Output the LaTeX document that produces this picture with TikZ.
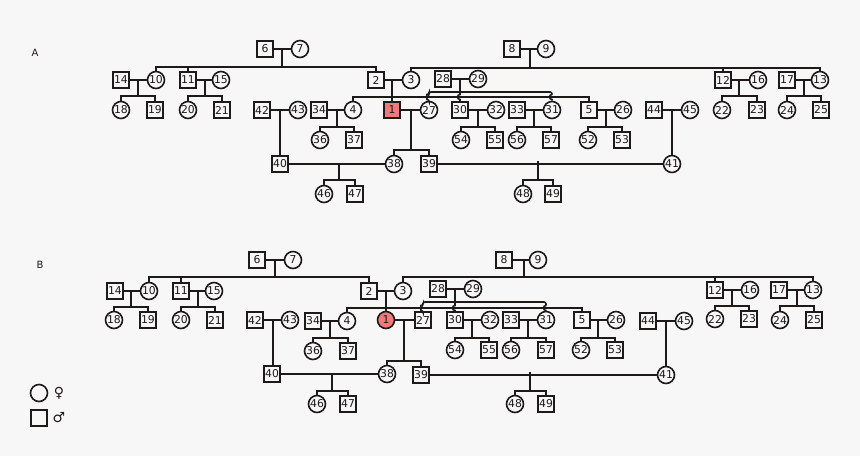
\documentclass[tikz,border=0pt]{standalone}
\usepackage{fontspec}
\usetikzlibrary{calc}
\newfontfamily\dv{DejaVu Sans}
\definecolor{bgc}{RGB}{247,247,247}
\definecolor{lnc}{RGB}{30,26,26}
\definecolor{affc}{RGB}{240,122,122}
\newcommand{\pedsib}[3]{\draw (#1.north) -- (#1.north |- 0,#3) -- (#2.north |- 0,#3) -- (#2.north);}
\newcommand{\peddrop}[2]{\draw (#1.north) -- (#1.north |- 0,#2);}
% #1 = a partner node (gives the couple line y), #2 = x of descent, #3 = y of sibship line
\newcommand{\peddesc}[3]{\coordinate (tmpc) at (#1 -| #2,0); \draw (tmpc) -- (tmpc |- 0,#3);}
\newcommand{\peddescto}[3]{\coordinate (tmpc) at (#1 -| #2,0); \draw (tmpc) -- (tmpc |- #3.north);}
\begin{document}
\begin{tikzpicture}[x=1pt,y=-1pt, color=lnc, line width=1.6pt,
  ml/.style={draw=lnc, rectangle, minimum size=16pt, inner sep=0pt, line width=1.6pt, fill=bgc, font=\dv\fontsize{10.8}{10.8}\selectfont},
  fl/.style={draw=lnc, circle, minimum size=17pt, inner sep=0pt, line width=1.6pt, fill=bgc, font=\dv\fontsize{10.8}{10.8}\selectfont},
  aff/.style={fill=affc},
  lbl/.style={font=\dv\fontsize{10}{10}\selectfont, text=lnc},
  sym/.style={font=\dv\fontsize{14}{14}\selectfont, text=lnc}]
\fill[bgc] (0,0) rectangle (860,456);
\useasboundingbox (0,0) rectangle (860,456);

% ================= Panel A =================
\node[lbl] (labA) at (35,53) {A};
\node[ml] (a6) at (265,49) {6};
\node[fl] (a7) at (300,49) {7};
\node[ml] (a8) at (512,49) {8};
\node[fl] (a9) at (546,49) {9};
\node[ml] (a14) at (121,80) {14};
\node[fl] (a10) at (156,80) {10};
\node[ml] (a11) at (188,80) {11};
\node[fl] (a15) at (221,80) {15};
\node[ml] (a2) at (376,80) {2};
\node[fl] (a3) at (411,80) {3};
\node[ml] (a28) at (443,79) {28};
\node[fl] (a29) at (478,79) {29};
\node[ml] (a12) at (723,80) {12};
\node[fl] (a16) at (758,80) {16};
\node[ml] (a17) at (787,80) {17};
\node[fl] (a13) at (820,80) {13};
\node[fl] (a18) at (121,110) {18};
\node[ml] (a19) at (155,110) {19};
\node[fl] (a20) at (188,110) {20};
\node[ml] (a21) at (222,110) {21};
\node[ml] (a42) at (262,110) {42};
\node[fl] (a43) at (298,110) {43};
\node[ml] (a34) at (319,110) {34};
\node[fl] (a4) at (353,110) {4};
\node[ml,aff] (a1) at (392,110) {1};
\node[fl] (a27) at (429,110) {27};
\node[ml] (a30) at (460,110) {30};
\node[fl] (a32) at (496,110) {32};
\node[ml] (a33) at (517,110) {33};
\node[fl] (a31) at (552,110) {31};
\node[ml] (a5) at (589,110) {5};
\node[fl] (a26) at (623,110) {26};
\node[ml] (a44) at (654,110) {44};
\node[fl] (a45) at (690,110) {45};
\node[fl] (a22) at (722,110) {22};
\node[ml] (a23) at (757,110) {23};
\node[fl] (a24) at (787,110) {24};
\node[ml] (a25) at (821,110) {25};
\node[fl] (a36) at (320,140) {36};
\node[ml] (a37) at (354,140) {37};
\node[fl] (a54) at (461,140) {54};
\node[ml] (a55) at (495,140) {55};
\node[fl] (a56) at (517,140) {56};
\node[ml] (a57) at (551,140) {57};
\node[fl] (a52) at (588,140) {52};
\node[ml] (a53) at (622,140) {53};
\node[ml] (a40) at (280,164) {40};
\node[fl] (a38) at (394,164) {38};
\node[ml] (a39) at (429,164) {39};
\node[fl] (a41) at (672,164) {41};
\node[fl] (a46) at (324,194) {46};
\node[ml] (a47) at (355,194) {47};
\node[fl] (a48) at (523,194) {48};
\node[ml] (a49) at (553,194) {49};

% couples
\draw (a6) -- (a7); \draw (a8) -- (a9);
\draw (a14) -- (a10); \draw (a11) -- (a15); \draw (a2) -- (a3); \draw (a28) -- (a29);
\draw (a12) -- (a16); \draw (a17) -- (a13);
\draw (a42) -- (a43); \draw (a34) -- (a4); \draw (a1) -- (a27); \draw (a30) -- (a32);
\draw (a33) -- (a31); \draw (a5) -- (a26); \draw (a44) -- (a45);
\draw (a40) -- (a38); \draw (a39) -- (a41);

% descents and sibships
\peddesc{a6}{282}{67} \pedsib{a10}{a2}{67} \peddrop{a11}{67}
\peddesc{a8}{530}{68} \pedsib{a3}{a13}{68} \peddrop{a12}{68}
\peddesc{a14}{138}{96} \pedsib{a18}{a19}{96}
\peddesc{a11}{205}{96} \pedsib{a20}{a21}{96}
\peddesc{a12}{739}{96} \pedsib{a22}{a23}{96}
\peddesc{a17}{804}{96} \pedsib{a24}{a25}{96}
\peddescto{a2}{392}{a1}
\pedsib{a4}{a5}{97}
\coordinate (a2829) at (a28 -| 460,0);
\draw (a2829) -- (a2829 |- 0,94.5) arc[start angle=270, end angle=90, radius=2.5] -- (a2829 |- a30.north);
\draw[rounded corners=2pt] (a27.north) -- (a27.north |- 0,99.5) arc[start angle=90, end angle=270, radius=2.5] -- (a27.north |- 0,92) -- (a31.north |- 0,92) -- (a31.north |- 0,94.5);
\draw (a31.north |- 0,94.5) arc[start angle=270, end angle=90, radius=2.5] -- (a31.north);
\peddescto{a42}{280}{a40}
\peddescto{a44}{672}{a41}
\peddesc{a34}{337}{127} \pedsib{a36}{a37}{127}
\peddesc{a30}{478}{127} \pedsib{a54}{a55}{127}
\peddesc{a33}{534}{127} \pedsib{a56}{a57}{127}
\peddesc{a5}{606}{127} \pedsib{a52}{a53}{127}
\peddesc{a1}{411}{150} \pedsib{a38}{a39}{150}
\coordinate (a4647) at (339,164); \draw (a4647) -- (a4647 |- 0,180); \pedsib{a46}{a47}{180}
\coordinate (a4849) at (538,161); \draw (a4849) -- (a4849 |- 0,180); \pedsib{a48}{a49}{180}

% ================= Panel B =================
\node[lbl] (labB) at (40,265) {B};
\node[ml] (b6) at (257,260) {6};
\node[fl] (b7) at (293,260) {7};
\node[ml] (b8) at (504,260) {8};
\node[fl] (b9) at (538,260) {9};
\node[ml] (b14) at (115,291) {14};
\node[fl] (b10) at (149,291) {10};
\node[ml] (b11) at (181,291) {11};
\node[fl] (b15) at (214,291) {15};
\node[ml] (b2) at (369,291) {2};
\node[fl] (b3) at (403,291) {3};
\node[ml] (b28) at (438,289) {28};
\node[fl] (b29) at (473,289) {29};
\node[ml] (b12) at (715,290) {12};
\node[fl] (b16) at (750,290) {16};
\node[ml] (b17) at (779,290) {17};
\node[fl] (b13) at (813,290) {13};
\node[fl] (b18) at (114,320) {18};
\node[ml] (b19) at (148,320) {19};
\node[fl] (b20) at (181,320) {20};
\node[ml] (b21) at (215,320) {21};
\node[ml] (b42) at (255,320) {42};
\node[fl] (b43) at (290,320) {43};
\node[ml] (b34) at (313,321) {34};
\node[fl] (b4) at (347,321) {4};
\node[fl,aff] (b1) at (386,320) {1};
\node[ml] (b27) at (423,320) {27};
\node[ml] (b30) at (455,320) {30};
\node[fl] (b32) at (490,320) {32};
\node[ml] (b33) at (511,320) {33};
\node[fl] (b31) at (546,320) {31};
\node[ml] (b5) at (582,320) {5};
\node[fl] (b26) at (616,320) {26};
\node[ml] (b44) at (648,321) {44};
\node[fl] (b45) at (684,321) {45};
\node[fl] (b22) at (715,319) {22};
\node[ml] (b23) at (749,319) {23};
\node[fl] (b24) at (780,320) {24};
\node[ml] (b25) at (814,320) {25};
\node[fl] (b36) at (313,351) {36};
\node[ml] (b37) at (348,351) {37};
\node[fl] (b54) at (455,350) {54};
\node[ml] (b55) at (489,350) {55};
\node[fl] (b56) at (511,350) {56};
\node[ml] (b57) at (546,350) {57};
\node[fl] (b52) at (581,350) {52};
\node[ml] (b53) at (615,350) {53};
\node[ml] (b40) at (272,374) {40};
\node[fl] (b38) at (387,374) {38};
\node[ml] (b39) at (421,375) {39};
\node[fl] (b41) at (666,375) {41};
\node[fl] (b46) at (317,404) {46};
\node[ml] (b47) at (348,404) {47};
\node[fl] (b48) at (515,404) {48};
\node[ml] (b49) at (546,404) {49};

\draw (b6) -- (b7); \draw (b8) -- (b9);
\draw (b14) -- (b10); \draw (b11) -- (b15); \draw (b2) -- (b3); \draw (b28) -- (b29);
\draw (b12) -- (b16); \draw (b17) -- (b13);
\draw (b42) -- (b43); \draw (b34) -- (b4); \draw (b1) -- (b27); \draw (b30) -- (b32);
\draw (b33) -- (b31); \draw (b5) -- (b26); \draw (b44) -- (b45);
\draw (b40) -- (b38); \draw (b39) -- (b41);

\peddesc{b6}{275}{277} \pedsib{b10}{b2}{277} \peddrop{b11}{277}
\peddesc{b8}{524}{277} \pedsib{b3}{b13}{277} \peddrop{b12}{277}
\peddesc{b14}{131}{307} \pedsib{b18}{b19}{307}
\peddesc{b11}{198}{307} \pedsib{b20}{b21}{307}
\peddesc{b12}{732}{306} \pedsib{b22}{b23}{306}
\peddesc{b17}{797}{306} \pedsib{b24}{b25}{306}
\peddescto{b2}{386}{b1}
\pedsib{b4}{b5}{308}
\coordinate (b2829) at (b28 -| 455,0);
\draw (b2829) -- (b2829 |- 0,305.5) arc[start angle=270, end angle=90, radius=2.5] -- (b2829 |- b30.north);
\draw[rounded corners=2pt] (b27.north) -- (b27.north |- 0,310.5) arc[start angle=90, end angle=270, radius=2.5] -- (b27.north |- 0,302) -- (b31.north |- 0,302) -- (b31.north |- 0,305.5);
\draw (b31.north |- 0,305.5) arc[start angle=270, end angle=90, radius=2.5] -- (b31.north);
\peddescto{b42}{273}{b40}
\peddescto{b44}{666}{b41}
\peddesc{b34}{330}{338} \pedsib{b36}{b37}{338}
\peddesc{b30}{472}{338} \pedsib{b54}{b55}{338}
\peddesc{b33}{528}{338} \pedsib{b56}{b57}{338}
\peddesc{b5}{598}{338} \pedsib{b52}{b53}{338}
\peddesc{b1}{404}{361} \pedsib{b38}{b39}{361}
\coordinate (b4647) at (332,374); \draw (b4647) -- (b4647 |- 0,391); \pedsib{b46}{b47}{391}
\coordinate (b4849) at (530,372); \draw (b4849) -- (b4849 |- 0,391); \pedsib{b48}{b49}{391}

% legend
\node[fl, minimum size=17pt] (legf) at (39,393) {};
\node[sym] (legfs) at (59,393) {♀};
\node[ml] (legm) at (39,418) {};
\node[sym] (legms) at (59,418) {♂};
\end{tikzpicture}
\end{document}
